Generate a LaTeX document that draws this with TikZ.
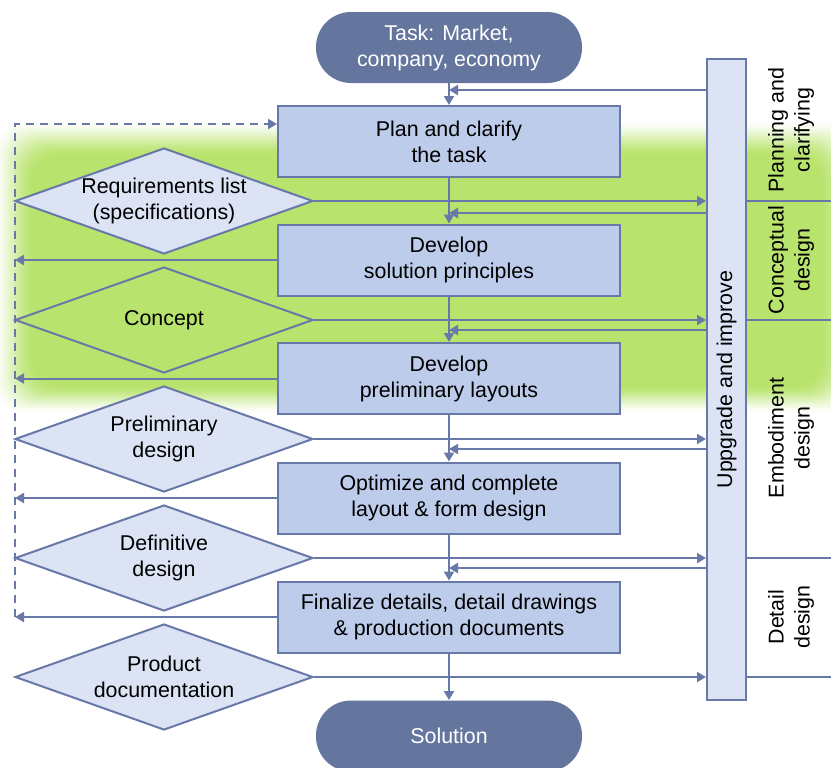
\documentclass[tikz,border=0pt]{standalone}
\usepackage{fontspec}
\setmainfont{Liberation Sans}
\usepackage{tikz}
\usetikzlibrary{arrows.meta,shapes.geometric}

\definecolor{linecol}{HTML}{6878A8}
\definecolor{boxcol}{HTML}{BDCCEB}
\definecolor{diamcol}{HTML}{DCE3F4}
\definecolor{termcol}{HTML}{64769E}
\definecolor{bandcol}{HTML}{B8E36C}

\begin{document}
\begin{tikzpicture}[x=0.5pt, y=-0.5pt,
  txt/.style={font=\fontsize{10.7}{13}\selectfont, align=center},
  terminal/.style={txt, fill=termcol, text=white, rounded corners=17.5pt, minimum width=133pt, minimum height=35.5pt, inner sep=0pt},
  activity/.style={txt, draw=linecol, line width=1pt, fill=boxcol, minimum width=171pt, minimum height=35.5pt, inner sep=0pt},
  result/.style={diamond, draw=linecol, line width=1pt, fill=diamcol, minimum width=149pt, minimum height=53pt, inner sep=0pt},
  phase/.style={txt, rotate=90},
  flow/.style={draw=linecol, line width=1pt, -{Triangle[length=4.5pt,width=5pt]}},
  back/.style={flow, dash pattern=on 4pt off 3pt},
  sep/.style={draw=linecol, line width=1pt}]
  \useasboundingbox (0,0) rectangle (831,767);
  % green band behind the first phases (soft edges)
  \foreach \k in {0,...,19}{
    \pgfmathsetmacro\ta{(\k+1)/20}
    \pgfmathsetmacro\tb{\k/20}
    \pgfmathsetmacro\aa{\ta*\ta*(3-2*\ta)}
    \pgfmathsetmacro\ab{\tb*\tb*(3-2*\tb)}
    \pgfmathsetmacro\op{(\aa-\ab)/(1-\ab)}
    \pgfmathsetmacro\t{\k/19}
    \fill[bandcol, opacity=\op, rounded corners=14pt]
      (-8+43*\t,120+37*\t) rectangle (860-40*\t,414-29*\t);
  }

  \node[terminal] (task) at (449,47.5) {Task: Market,\\company, economy};
  \node[activity] (plan) at (449,141.5) {Plan and clarify\\the task};
  \node[activity] (principles) at (449,260) {Develop\\solution principles};
  \node[activity] (layouts) at (449,378.5) {Develop\\preliminary layouts};
  \node[activity] (optimize) at (449,498) {Optimize and complete\\layout \& form design};
  \node[activity] (finalize) at (449,617) {Finalize details, detail drawings\\\& production documents};
  \node[terminal] (solution) at (449,736) {Solution};

  \node[result, label={[txt]center:Requirements list\\(specifications)}] (reqs) at (164,201) {};
  \node[result, fill=bandcol, label={[txt]center:Concept}] (concept) at (164,320) {};
  \node[result, label={[txt]center:Preliminary\\design}] (prelim) at (164,439) {};
  \node[result, label={[txt]center:Definitive\\design}] (definitive) at (164,558) {};
  \node[result, label={[txt]center:Product\\documentation}] (productdoc) at (164,677) {};

  \node[draw=linecol, line width=1pt, fill=diamcol, minimum width=19.5pt, minimum height=320.5pt, inner sep=0pt,
    label={[phase]center:Uppgrade and improve}] (bar) at (726.5,379.5) {};

  \node[phase] (planning) at (791,130) {Planning and\\clarifying};
  \node[phase] (conceptual) at (791,260) {Conceptual\\design};
  \node[phase] (embodiment) at (791,438) {Embodiment\\design};
  \node[phase] (detail) at (791,617) {Detail\\design};

  \coordinate (lft) at (15,0);
  \coordinate (rgt) at (831,0);
  \coordinate (loop) at ([yshift=8.75pt]plan.west);
  \foreach \n/\y in {0/90,1/213,2/330,3/449,4/568}
    \coordinate (ret\n) at (449,\y);

  \draw[flow] (task) -- (plan);
  \foreach \a/\b in {plan/principles,principles/layouts,layouts/optimize,optimize/finalize,finalize/solution}
    \draw[flow] (\a) -- (\b);
  \foreach \b in {principles,layouts,optimize,finalize}
    \draw[flow] (\b) -- (\b -| lft);
  \draw[back] (finalize -| lft) -- (lft |- loop) -- (loop);

  \foreach \d in {reqs,concept,prelim,definitive,productdoc}
    \draw[flow] (\d.east) -- (\d.east -| bar.west);
  \foreach \n in {0,...,4}
    \draw[flow] (ret\n -| bar.west) -- (ret\n);
  \foreach \d in {reqs,concept,definitive,productdoc}
    \draw[sep] (\d.east -| bar.east) -- (\d.east -| rgt);
\end{tikzpicture}
\end{document}
